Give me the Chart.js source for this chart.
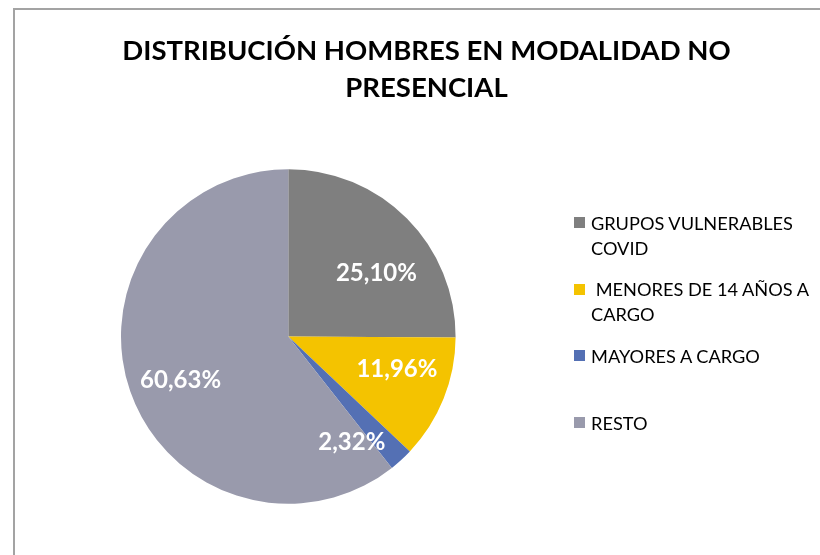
<!DOCTYPE html>
<html>
<head>
<meta charset="utf-8">
<script src="https://cdn.jsdelivr.net/npm/chart.js@4.4.1/dist/chart.umd.min.js"></script>
<style>
  html, body { margin: 0; padding: 0; background: #fff; }
  body { width: 820px; height: 555px; position: relative; overflow: hidden; font-family: Lato, "Open Sans", sans-serif; }
  #frame { position: absolute; left: 13px; top: 8px; width: 900px; height: 700px;
           border-left: 2px solid #A3A3A3; border-top: 2px solid #A3A3A3; }
  #chart { position: absolute; left: 0; top: 0; }
  #title { position: absolute; left: 33px; width: 787px; top: 30.9px; text-align: center;
           font: bold 27.5px Lato, sans-serif; line-height: 37px; color: #000; }
  .item { position: absolute; left: 574px; }
  .swatch { position: absolute; left: 0; top: 6.5px; width: 11px; height: 11px; }
  .txt { position: absolute; left: 17px; white-space: pre; font: 18.2px Lato, sans-serif; line-height: 25px; color: #000; }
</style>
</head>
<body>
<div id="frame"></div>
<canvas id="chart" width="820" height="555"></canvas>
<div id="title"></div>
<div id="legend"></div>
<script>
// ---- data ----
const titleLines = ["DISTRIBUCIÓN HOMBRES EN MODALIDAD NO", "PRESENCIAL"];
const categories = [
  ["GRUPOS VULNERABLES", "COVID"],
  [" MENORES DE 14 AÑOS A", "CARGO"],
  ["MAYORES A CARGO"],
  ["RESTO"]
];
const values = [25.10, 11.96, 2.32, 60.63];

// ---- styles ----
const sliceColors = ["#7F7F7F", "#F4C300", "#5470B4", "#999AAC"];
// label placement relative to each slice: angular shift (deg) and radius fraction
const labelShift = [8.6, -5.4, 11.3, -2.6];
const labelRadius = [0.653, 0.677, 0.735, 0.693];

document.getElementById('title').innerHTML = titleLines.map(t => '<div>' + t + '</div>').join('');

const legend = document.getElementById('legend');
categories.forEach((lines, i) => {
  const item = document.createElement('div');
  item.className = 'item';
  item.style.top = (210.5 + i * 66.67) + 'px';
  const sw = document.createElement('div');
  sw.className = 'swatch';
  sw.style.background = sliceColors[i];
  const tx = document.createElement('div');
  tx.className = 'txt';
  tx.textContent = lines.join('\n');
  item.appendChild(sw);
  item.appendChild(tx);
  legend.appendChild(item);
});

const fmt = v => v.toFixed(2).replace('.', ',') + '%';

const labelPlugin = {
  id: 'sliceLabels',
  afterDatasetsDraw(chart) {
    const ctx = chart.ctx;
    const meta = chart.getDatasetMeta(0);
    ctx.save();
    ctx.fillStyle = '#FFFFFF';
    ctx.font = 'bold 24px Lato, sans-serif';
    ctx.textAlign = 'center';
    ctx.textBaseline = 'alphabetic';
    meta.data.forEach((arc, i) => {
      const p = arc.getProps(['x', 'y', 'startAngle', 'endAngle', 'outerRadius'], true);
      const a = (p.startAngle + p.endAngle) / 2 + labelShift[i] * Math.PI / 180;
      const r = p.outerRadius * labelRadius[i];
      const x = p.x + r * Math.cos(a);
      const y = p.y + r * Math.sin(a);
      ctx.fillText(fmt(chart.data.datasets[0].data[i]), x, y + 8.6);
    });
    ctx.restore();
  }
};

new Chart(document.getElementById('chart'), {
  type: 'pie',
  data: {
    labels: categories,
    datasets: [{
      data: values,
      backgroundColor: sliceColors,
      borderWidth: 0
    }]
  },
  options: {
    responsive: false,
    animation: false,
    devicePixelRatio: 1,
    layout: { padding: { left: 121, right: 364.4, top: 169.2, bottom: 51.2 } },
    plugins: {
      legend: { display: false },
      tooltip: { enabled: false },
      title: { display: false }
    }
  },
  plugins: [labelPlugin]
});
</script>
</body>
</html>
